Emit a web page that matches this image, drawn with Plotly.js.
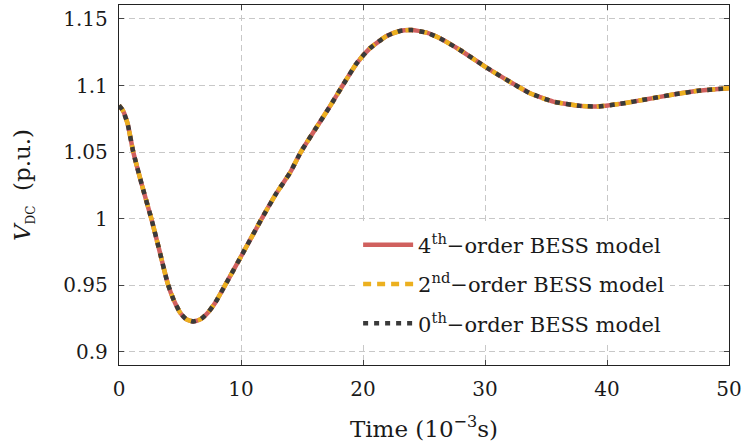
<!DOCTYPE html>
<html>
<head>
<meta charset="utf-8">
<script src="https://cdn.plot.ly/plotly-3.0.1.min.js"></script>
<style>
  html, body { margin: 0; padding: 0; background: #ffffff; }
  #chart { width: 742px; height: 445px; }
</style>
</head>
<body>
<div id="chart"></div>
<script>
// Time axis (ms)
const timeMs = [0, 0.3, 0.7, 1.17, 1.9, 2.65, 3.3, 4.0, 4.5, 5.0, 5.5, 6.1, 6.7, 7.3, 7.9, 8.7,
  10.0, 11.7, 12.93, 14.02, 14.9, 15.9, 17.3, 18.33, 19.48, 20.57, 21.94, 23.03,
  23.99, 25.22, 26.3, 27.95, 30, 31.78, 33.69, 35.6, 37.79, 39.16, 41.07, 43.25, 45.43, 47.62, 50];

// DC-link voltage (p.u.) for each BESS model order
const vdc4th = [1.085, 1.0815, 1.0715, 1.05, 1.0245, 1.0, 0.9765, 0.951, 0.9385, 0.9295, 0.9245, 0.9227,
  0.9245, 0.9295, 0.937, 0.95, 0.9715, 1.0, 1.0195, 1.0345, 1.05, 1.0645, 1.0845, 1.1, 1.1167, 1.128,
  1.1372, 1.141, 1.1417, 1.1397, 1.1355, 1.1267, 1.1142, 1.1042, 1.0942, 1.0879, 1.0847, 1.0842,
  1.0862, 1.0897, 1.0932, 1.0962, 1.098];
const vdc2nd = [1.085, 1.0815, 1.0715, 1.05, 1.0245, 1.0, 0.9765, 0.951, 0.9385, 0.9295, 0.9245, 0.9227,
  0.9245, 0.9295, 0.937, 0.95, 0.9715, 1.0, 1.0195, 1.0345, 1.05, 1.0645, 1.0845, 1.1, 1.1167, 1.128,
  1.1372, 1.141, 1.1417, 1.1397, 1.1355, 1.1267, 1.1142, 1.1042, 1.0942, 1.0879, 1.0847, 1.0842,
  1.0862, 1.0897, 1.0932, 1.0962, 1.098];
const vdc0th = [1.085, 1.0815, 1.0715, 1.05, 1.0245, 1.0, 0.9765, 0.951, 0.9385, 0.9295, 0.9245, 0.9227,
  0.9245, 0.9295, 0.937, 0.95, 0.9715, 1.0, 1.0195, 1.0345, 1.05, 1.0645, 1.0845, 1.1, 1.1167, 1.128,
  1.1372, 1.141, 1.1417, 1.1397, 1.1355, 1.1267, 1.1142, 1.1042, 1.0942, 1.0879, 1.0847, 1.0842,
  1.0862, 1.0897, 1.0932, 1.0962, 1.098];

const seriesNames = [
  '4<sup>th</sup>\u2212order BESS model',
  '2<sup>nd</sup>\u2212order BESS model',
  '0<sup>th</sup>\u2212order BESS model'
];

const xTicks = [0, 10, 20, 30, 40, 50];
const yTicks = [0.9, 0.95, 1, 1.05, 1.1, 1.15];
const yTickText = ['0.9', '0.95', '1', '1.05', '1.1', '1.15'];

const FONT = 'DejaVu Serif, serif';
const INK = '#1a1a1a';

const traces = [
  { x: timeMs, y: vdc4th, name: seriesNames[0], legendgroup: 'a', type: 'scatter', mode: 'lines',
    line: { color: '#d0605e', width: 4.5, shape: 'spline', smoothing: 0.5 } },
  { x: timeMs, y: vdc2nd, name: seriesNames[1], legendgroup: 'b', type: 'scatter', mode: 'lines',
    line: { color: '#ecb01f', width: 4.5, dash: '8px,6px', shape: 'spline', smoothing: 0.5 } },
  { x: timeMs, y: vdc0th, name: seriesNames[2], legendgroup: 'c', type: 'scatter', mode: 'lines',
    line: { color: '#3a3a3a', width: 4.5, dash: '5px,6px', shape: 'spline', smoothing: 0.5 } }
];

const axisCommon = {
  showline: true, linecolor: '#222222', linewidth: 1.2, mirror: 'ticks',
  ticks: 'inside', ticklen: 5, tickwidth: 1, tickcolor: '#444444',
  showgrid: true, gridcolor: '#c8c8c8', gridwidth: 1, griddash: '6px,4px',
  zeroline: false, tickfont: { family: FONT, size: 20, color: INK }
};

const layout = {
  width: 742, height: 445,
  margin: { l: 119, r: 13, t: 5, b: 80 },
  paper_bgcolor: '#ffffff', plot_bgcolor: '#ffffff',
  showlegend: true,
  legend: {
    x: 0.392, y: 0.39, xanchor: 'left', yanchor: 'top',
    bgcolor: '#ffffff', borderwidth: 0,
    font: { family: FONT, size: 21, color: INK },
    traceorder: 'grouped', tracegroupgap: 9, itemwidth: 50
  },
  xaxis: Object.assign({}, axisCommon, {
    range: [0, 50], tickvals: xTicks, ticktext: xTicks.map(String),
    ticklabelstandoff: 6,
    title: { text: 'Time (10<sup>\u22123</sup>s)', font: { family: FONT, size: 23, color: INK }, standoff: 20 }
  }),
  yaxis: Object.assign({}, axisCommon, {
    range: [0.89, 1.1605], tickvals: yTicks, ticktext: yTickText,
    ticklabelstandoff: 6,
    title: { text: '<i>V</i><sub><span style="font-size:12px">DC</span></sub>  (p.u.)', font: { family: FONT, size: 23, color: INK }, standoff: 26 }
  })
};

Plotly.newPlot('chart', traces, layout, { displayModeBar: false, staticPlot: true });
</script>
</body>
</html>
